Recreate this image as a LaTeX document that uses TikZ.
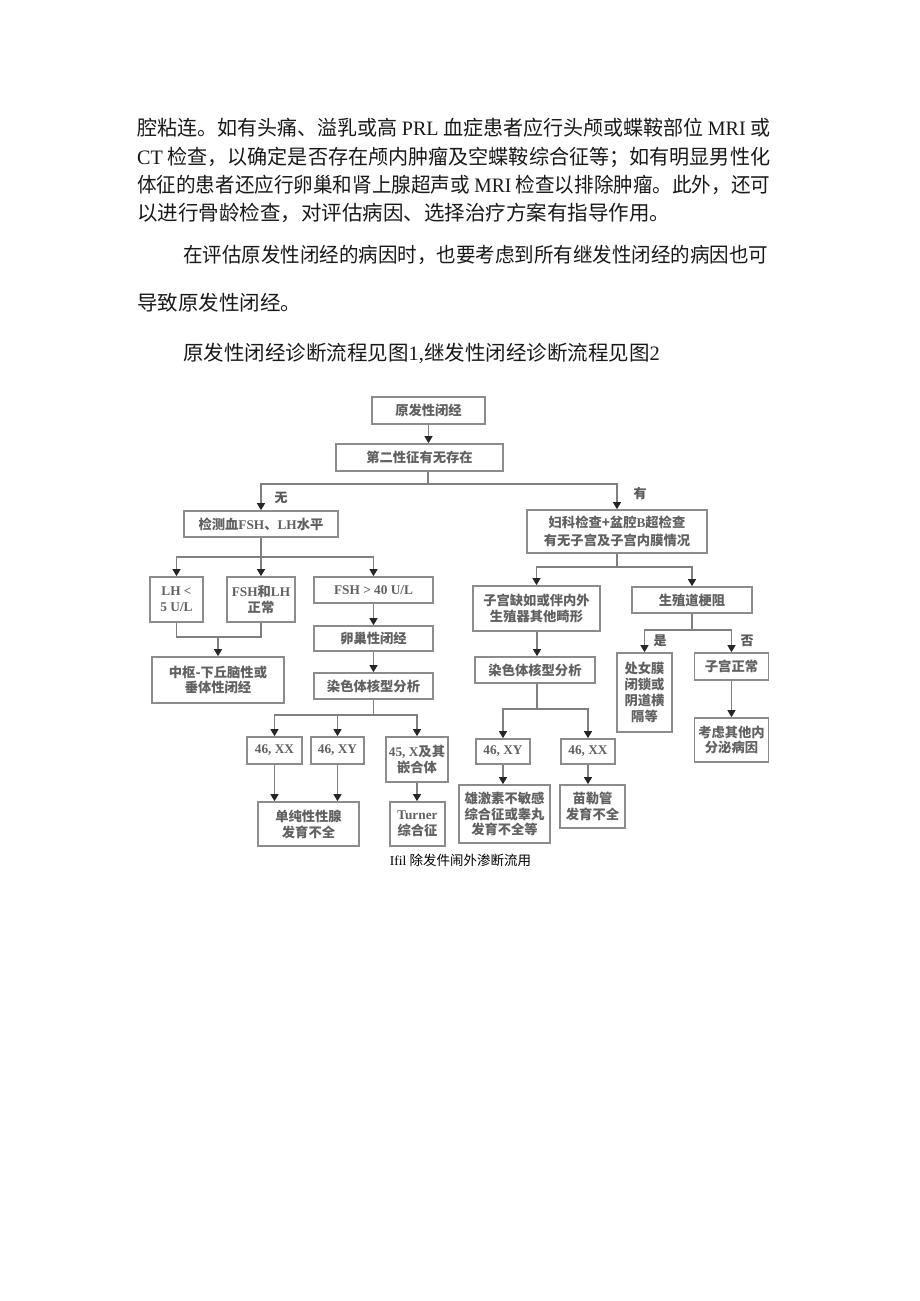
\documentclass[tikz,border=0pt]{standalone}
\usepackage{fontspec}
\usepackage{graphicx}
\setmainfont{Noto Sans CJK SC}
\newfontfamily\lat{Liberation Serif}
\usetikzlibrary{arrows.meta}
\newsavebox\linebox
\newcommand\fitline[2]{\sbox\linebox{#2}\pgfmathsetmacro\fitsx{#1/\wd\linebox}\scalebox{\fitsx}[1]{\usebox\linebox}}
\tikzset{
  bodytxt/.style={anchor=west, inner sep=0pt, text=black!90, font=\fontsize{20.5}{24}\selectfont},
  box/.style={draw=black!45, line width=1.7pt, fill=white, inner sep=1pt, align=center,
    text=black!62, font=\fontsize{13.3}{15.8}\selectfont\bfseries},
  conn/.style={draw=black!50, line width=1.3pt},
  arr/.style={conn, -{Triangle[length=7pt,width=8pt,color=black!85]}},
  lab/.style={inner sep=0pt, text=black!65, font=\fontsize{13}{15}\selectfont\bfseries},
}
\begin{document}
\begin{tikzpicture}[x=1pt,y=-1pt]
\useasboundingbox[fill=white] (0,0) rectangle (920,1301);
% body text
\node[bodytxt] (t1) at (137,128) {\fitline{633}{腔粘连。如有头痛、溢乳或高 {\lat PRL} 血症患者应行头颅或蝶鞍部位 {\lat MRI} 或}};
\node[bodytxt] (t2) at (137,157) {\fitline{633}{{\lat CT} 检查，以确定是否存在颅内肿瘤及空蝶鞍综合征等；如有明显男性化}};
\node[bodytxt] (t3) at (137,185) {\fitline{633}{体征的患者还应行卵巢和肾上腺超声或 {\lat MRI} 检查以排除肿瘤。此外，还可}};
\node[bodytxt] (t4) at (137,213) {以进行骨龄检查，对评估病因、选择治疗方案有指导作用。};
\node[bodytxt] (t5) at (183,255) {\fitline{585}{在评估原发性闭经的病因时，也要考虑到所有继发性闭经的病因也可}};
\node[bodytxt] (t6) at (137,303) {导致原发性闭经。};
\node[bodytxt] (t7) at (183,353) {原发性闭经诊断流程见图{\lat 1,}继发性闭经诊断流程见图{\lat 2}};
% boxes
\node[box, minimum width=113pt, minimum height=27pt] (n1) at (428.5,410.5) {原发性闭经};
\node[box, minimum width=167pt, minimum height=27pt] (n2) at (419.5,457.5) {第二性征有无存在};
\node[box, minimum width=154pt, minimum height=26pt] (n3) at (261,524) {检测血{\lat FSH}、{\lat LH}水平};
\node[box, minimum width=180pt, minimum height=43pt, font=\fontsize{13.3}{18}\selectfont\bfseries] (n4) at (617,531.5) {妇科检查+盆腔{\lat B}超检查\\有无子宫及子宫内膜情况};
\node[box, minimum width=53pt, minimum height=45pt] (n5) at (176.5,599.5) {{\lat LH <}\\{\lat 5 U/L}};
\node[box, minimum width=68pt, minimum height=45pt] (n6) at (261,599.5) {{\lat FSH}和{\lat LH}\\正常};
\node[box, minimum width=119pt, minimum height=26pt] (n7) at (373.5,590) {{\lat FSH > 40 U/L}};
\node[box, minimum width=132pt, minimum height=46pt] (n8) at (218,680) {中枢-下丘脑性或\\垂体性闭经};
\node[box, minimum width=119pt, minimum height=25pt] (n9) at (373.5,638.5) {卵巢性闭经};
\node[box, minimum width=119pt, minimum height=26pt] (n10) at (373.5,686) {染色体核型分析};
\node[box, minimum width=55pt, minimum height=27pt] (n11) at (274.5,750.5) {{\lat 46, XX}};
\node[box, minimum width=53pt, minimum height=27pt] (n12) at (337.5,750.5) {{\lat 46, XY}};
\node[box, minimum width=62pt, minimum height=45pt] (n13) at (417,759.5) {{\lat 45, X}及其\\嵌合体};
\node[box, minimum width=101pt, minimum height=44pt] (n14) at (308.5,824) {单纯性性腺\\发育不全};
\node[box, minimum width=55pt, minimum height=44pt] (n15) at (417.5,824) {{\lat Turner}\\综合征};
\node[box, minimum width=127pt, minimum height=45pt] (n16) at (536.5,608.5) {子宫缺如或伴内外\\生殖器其他畸形};
\node[box, minimum width=120pt, minimum height=26pt] (n17) at (692,600) {生殖道梗阻};
\node[box, minimum width=120pt, minimum height=26pt] (n18) at (535,670) {染色体核型分析};
\node[box, minimum width=54pt, minimum height=25pt] (n19) at (503,751.5) {{\lat 46, XY}};
\node[box, minimum width=54pt, minimum height=25pt] (n20) at (588,751.5) {{\lat 46, XX}};
\node[box, minimum width=91pt, minimum height=58pt] (n21) at (504.5,814) {雄激素不敏感\\综合征或睾丸\\发育不全等};
\node[box, minimum width=65pt, minimum height=43pt] (n22) at (592.5,806.5) {苗勒管\\发育不全};
\node[box, minimum width=55pt, minimum height=79pt] (n23) at (644.5,692.5) {处女膜\\闭锁或\\阴道横\\隔等};
\node[box, minimum width=74pt, minimum height=27pt] (n24) at (731.5,666.5) {子宫正常};
\node[box, minimum width=74pt, minimum height=44pt] (n25) at (731.5,740) {考虑其他内\\分泌病因};
% junctions
\coordinate (j1) at (428,484);
\coordinate (j2) at (261,557);
\coordinate (j3) at (218,637);
\coordinate (j4) at (373.5,715);
\coordinate (j5) at (617,567);
\coordinate (j6) at (537,709);
\coordinate (j7) at (692,630);
% connectors
\draw[arr] (n1.south) -- (n1.south |- n2.north);
\draw[conn] (n2.south -| j1) -- (j1);
\draw[arr] (j1) -| (n3.north);
\draw[arr] (j1) -| (n4.north);
\draw[conn] (n3.south) -- (j2);
\draw[arr] (j2) -| (n5.north);
\draw[arr] (j2) -- (n6.north);
\draw[arr] (j2) -| (n7.north);
\draw[conn] (n5.south) |- (j3) -| (n6.south);
\draw[arr] (j3) -- (n8.north);
\draw[arr] (n7.south) -- (n9.north);
\draw[arr] (n9.south) -- (n10.north);
\draw[conn] (n10.south) -- (j4);
\draw[arr] (j4) -| (n11.north);
\draw[arr] (j4) -| (n12.north);
\draw[arr] (j4) -| (n13.north);
\draw[arr] (n11.south) -- (n11.south |- n14.north);
\draw[arr] (n12.south) -- (n12.south |- n14.north);
\draw[arr] (n13.south) -- (n13.south |- n15.north);
\draw[conn] (n4.south) -- (j5);
\draw[arr] (j5) -| (n16.north);
\draw[arr] (j5) -| (n17.north);
\draw[arr] (n16.south -| j6) -- (n18.north -| j6);
\draw[conn] (n18.south -| j6) -- (j6);
\draw[arr] (j6) -| (n19.north);
\draw[arr] (j6) -| (n20.north);
\draw[arr] (n19.south) -- (n19.south |- n21.north);
\draw[arr] (n20.south) -- (n20.south |- n22.north);
\draw[conn] (n17.south) -- (j7);
\draw[arr] (j7) -| (n23.north);
\draw[arr] (j7) -| (n24.north);
\draw[arr] (n24.south) -- (n25.north);
% labels
\node[lab] (l1) at (281,498) {无};
\node[lab] (l2) at (640,494) {有};
\node[lab] (l3) at (660,641) {是};
\node[lab] (l4) at (747,641) {否};
% caption
\node[inner sep=0pt, font=\fontsize{13.5}{16}\selectfont] (cap) at (460.5,860) {{\lat Ifil} 除发件闹外渗断流用};
\end{tikzpicture}
\end{document}
